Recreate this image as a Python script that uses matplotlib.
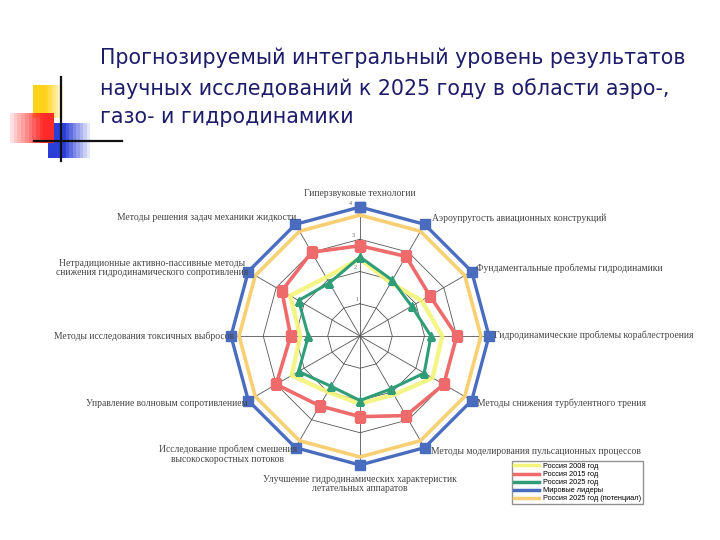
import numpy as np
import matplotlib
matplotlib.use("Agg")
from matplotlib import pyplot as plt
from matplotlib.patches import Rectangle
from matplotlib.lines import Line2D

# axes, clockwise from the top
categories = [
    "Гиперзвуковые технологии",
    "Аэроупругость авиационных конструкций",
    "Фундаментальные проблемы гидродинамики",
    "Гидродинамические проблемы кораблестроения",
    "Методы снижения турбулентного трения",
    "Методы моделирования пульсационных процессов",
    "Улучшение гидродинамических характеристик\nлетательных аппаратов",
    "Исследование проблем смешения\nвысокоскоростных потоков",
    "Управление волновым сопротивлением",
    "Методы исследования токсичных выбросов",
    "Нетрадиционные активно-пассивные методы\nснижения гидродинамического сопротивления",
    "Методы решения задач механики жидкости",
]

russia_2008 = [2.4, 1.9, 2.2, 2.55, 2.6, 2.1, 2.1, 2.0, 2.45, 1.85, 2.5, 2.1]
russia_2015 = [2.8, 2.85, 2.5, 3.0, 3.0, 2.85, 2.5, 2.5, 3.0, 2.15, 2.8, 3.0]
russia_2025 = [2.45, 2.0, 1.85, 2.2, 2.3, 1.9, 2.0, 1.8, 2.2, 1.6, 2.2, 1.9]
world_leaders = [4, 4, 4, 4, 4, 4, 4, 4, 4, 4, 4, 4]
russia_2025_potential = [3.75, 3.75, 3.75, 3.75, 3.75, 3.75, 3.75, 3.75, 3.75, 3.75, 3.75, 3.75]

legend_labels = ["Россия 2008 год", "Россия 2015 год", "Россия 2025 год",
                 "Мировые лидеры", "Россия 2025 год (потенциал)"]
rings = [1, 2, 3, 4]

title_lines = [
    "Прогнозируемый интегральный уровень результатов",
    "научных исследований к 2025 году в области аэро-,",
    "газо- и гидродинамики",
]

W, H = 720, 540
fig = plt.figure(figsize=(7.2, 5.4), dpi=100)


def px(x, y):
    return x / W, 1 - y / H


# decorative corner block
deco = fig.add_axes([0, 0, 1, 1], zorder=0)
deco.set_xlim(0, W)
deco.set_ylim(H, 0)
deco.axis("off")
for i in range(12):
    a = 1 - i / 12
    deco.add_patch(Rectangle((33 + i * 2.5, 85), 2.5, 33, color="#ffd21a",
                             alpha=min(1, 1.6 * a), lw=0))
    deco.add_patch(Rectangle((10 + i * 3.7, 113), 3.7, 30, color="#ff2a2a",
                             alpha=min(1, 0.15 + i / 10), lw=0))
    deco.add_patch(Rectangle((48 + i * 3.5, 123), 3.5, 35, color="#2a3fd8",
                             alpha=min(1, 1.5 * a), lw=0))
deco.plot([61, 61], [77, 161], color="#111111", lw=1.6)
deco.plot([34, 122], [141, 141], color="#111111", lw=1.6)

title_y = [58, 89, 117]
for line, ty in zip(title_lines, title_y):
    fig.text(*px(100, ty), line, fontsize=14.8, color="#1c1c6a",
             family="DejaVu Sans", va="center", ha="left")

# radar
cx, cy, R = 360, 336, 129
ax = fig.add_axes([(cx - R) / W, (H - cy - R) / H, 2 * R / W, 2 * R / H],
                  projection="polar", zorder=2)
ax.set_theta_zero_location("N")
ax.set_theta_direction(-1)
ax.set_ylim(0, 4)
ax.axis("off")

n = len(categories)
theta = np.linspace(0, 2 * np.pi, n, endpoint=False)
closed = np.append(theta, theta[0])

for r in rings:
    ax.plot(closed, [r] * (n + 1), color="#555555", lw=0.6, zorder=1)
for t in theta:
    ax.plot([t, t], [0, 4], color="#555555", lw=0.6, zorder=1)
for r in rings:
    ax.text(np.deg2rad(-4), r + 0.12, str(r), fontsize=4.5, color="#666666",
            ha="center", va="center", family="Liberation Serif")


def close(v):
    return list(v) + [v[0]]


ax.plot(closed, close(russia_2025_potential), color="#f8cf72", lw=2.6,
        zorder=2, clip_on=False)
ax.plot(closed, close(world_leaders), color="#4a6cbf", lw=2.4, zorder=3,
        marker="s", ms=7.5, clip_on=False)
ax.plot(closed, close(russia_2008), color="#f4f47a", lw=3.2, alpha=0.9, zorder=2)
ax.plot(closed, close(russia_2015), color="#ef6b6b", lw=2.6, zorder=4,
        marker="s", ms=7)
ax.plot(closed, close(russia_2025), color="#2f9e78", lw=2.2, zorder=5,
        marker="^", ms=5.5)

# category labels
label_pos = [
    (360, 194, "center"), (432, 218, "left"), (476, 268, "left"),
    (494, 335, "left"), (477, 403, "left"), (431, 452, "left"),
    (360, 484, "center"), (297, 454, "right"), (248, 404, "right"),
    (234, 336, "right"), (248, 268, "right"), (296, 218, "right"),
]
for name, (lx, ly, ha) in zip(categories, label_pos):
    fig.text(*px(lx, ly), name, fontsize=6.9, color="#444444",
             family="Liberation Serif", ha=ha, va="center",
             multialignment="center", linespacing=1.1, zorder=3)

# legend
leg_colors = ["#f4f47a", "#ef6b6b", "#2f9e78", "#4a6cbf", "#f8cf72"]
handles = [Line2D([], [], color=c, lw=2.5) for c in leg_colors]
fig.legend(handles, legend_labels, loc="upper left",
           bbox_to_anchor=px(508, 457), frameon=True,
           fancybox=False, edgecolor="#777777", handlelength=3.4,
           labelspacing=0.12, borderpad=0.3, handletextpad=0.5,
           prop={"family": "Liberation Sans", "size": 5.3})

fig.savefig("out.png", dpi=100)
